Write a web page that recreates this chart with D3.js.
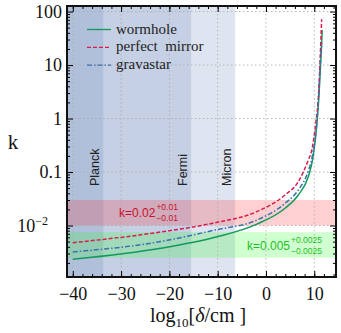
<!DOCTYPE html>
<html>
<head>
<meta charset="utf-8">
<script src="https://cdn.jsdelivr.net/npm/d3@7"></script>
<style>
body{margin:0;background:#fff;}
</style>
</head>
<body>
<div id="plot"></div>
<script>
// chart values
var xTicks = [-40,-30,-20,-10,0,10];
var yTicks = [100,10,1,0.1,0.01];
var yTickLabels = ["100","10","1","0.1","10"];

var bands = [ {name:"Planck", edge:-33.7}, {name:"Fermi", edge:-15.5}, {name:"Micron", edge:-6.4} ];
var redBand = [0.01,0.03];
var greenBand = [0.0025,0.0075];

var wormX = [-40,-21.8,-10.56,-2,3.94,6.69,8.76,9.7,10.55,10.95,11.3,11.65];
var wormK = [0.00233,0.00375,0.00602,0.0105,0.021,0.0372,0.0817,0.18,0.8,2.5,10,45];
var mirrorX = [-40,-21.8,-10.56,-2,3.94,6.69,8.76,9.5,10.3,10.9,11.2,11.53];
var mirrorK = [0.00477,0.00757,0.01127,0.018,0.0372,0.0659,0.1676,0.26,0.8,3,12,72];
var gravX = [-40,-21.8,-10.56,-2,3.94,6.69,8.76,9.6,10.5,10.9,11.25,11.59];
var gravK = [0.0032,0.00502,0.00824,0.0125,0.026,0.0461,0.105,0.2,0.8,2.5,10,26];

var serif = '"Liberation Serif",serif', sans = '"Liberation Sans",sans-serif';

var margin = {t:6,r:5,b:56,l:67};
var W = 341, H = 333;
var width = W-margin.l-margin.r, height = H-margin.t-margin.b;

var svg = d3.select('#plot').append('svg')
    .attr('width',W).attr('height',H);
var plot = svg.append('g')
    .attr('transform','translate('+margin.l+','+margin.t+')');

var x = d3.scaleLinear().domain([-41.2,14.5]).range([0,width]);
var y = d3.scaleLog().domain([0.00109,127]).range([height,0]);

plot.append('defs').append('clipPath').attr('id','clip')
    .append('rect').attr('width',width).attr('height',height);
var inner = plot.append('g').attr('clip-path','url(#clip)');

// blue length-scale bands, all starting from the left edge
bands.forEach(function(b){
    inner.append('rect')
        .attr('x',0).attr('y',0)
        .attr('width',x(b.edge)).attr('height',height)
        .style('fill','rgb(87,118,176)').style('fill-opacity',0.19);
});

// k bands
inner.append('rect')
    .attr('x',0).attr('width',width)
    .attr('y',y(redBand[1])).attr('height',y(redBand[0])-y(redBand[1]))
    .style('fill','rgb(255,40,40)').style('fill-opacity',0.22);
inner.append('rect')
    .attr('x',0).attr('width',width)
    .attr('y',y(greenBand[1])).attr('height',y(greenBand[0])-y(greenBand[1]))
    .style('fill','rgb(40,255,40)').style('fill-opacity',0.22);

// grid
xTicks.forEach(function(t){
    inner.append('line').attr('x1',x(t)).attr('x2',x(t)).attr('y1',0).attr('y2',height)
        .style('stroke','#aaa').style('stroke-width',0.8).style('stroke-dasharray','1.5,2.5');
});
yTicks.forEach(function(t){
    inner.append('line').attr('x1',0).attr('x2',width).attr('y1',y(t)).attr('y2',y(t))
        .style('stroke','#aaa').style('stroke-width',0.8).style('stroke-dasharray','1.5,2.5');
});

// band labels
bands.forEach(function(b){
    inner.append('text')
        .attr('transform','translate('+(x(b.edge)-4)+','+(186-margin.t)+') rotate(-90)')
        .style('font-family',sans)
        .style('font-size','12.5px').style('fill','#222')
        .text(b.name);
});

// curves
var line = d3.line().curve(d3.curveMonotoneX)
    .x(function(d){return x(d[0]);}).y(function(d){return y(d[1]);});
function pairs(xs,ks){ return xs.map(function(v,i){return [v,ks[i]];}); }

var series = [
    {name:'wormhole', data:pairs(wormX,wormK), color:'#119a5c', dash:null},
    {name:'perfect  mirror', data:pairs(mirrorX,mirrorK), color:'#d81c4c', dash:'4,2'},
    {name:'gravastar', data:pairs(gravX,gravK), color:'#3a72ad', dash:'5,2,1.5,2'}
];
series.forEach(function(s){
    inner.append('path').attr('d',line(s.data))
        .style('fill','none').style('stroke',s.color).style('stroke-width',1.5)
        .style('stroke-dasharray',s.dash);
});

// annotations
function annot(tx,ty,main,sup,sub,col){
    var g = plot.append('g');
    var t = g.append('text').attr('x',tx).attr('y',ty)
        .style('font-family',sans).style('fill',col).style('font-size','12px').text(main);
    var w = t.node().getComputedTextLength();
    g.append('text').attr('x',tx+w+1).attr('y',ty-7)
        .style('font-family',sans).style('fill',col).style('font-size','8.5px').text(sup);
    g.append('text').attr('x',tx+w+1).attr('y',ty+4)
        .style('font-family',sans).style('fill',col).style('font-size','8.5px').text(sub);
}
annot(119-margin.l,217-margin.t,'k=0.02','+0.01','\u22120.01','#c8102e');
annot(247-margin.l,250-margin.t,'k=0.005','+0.0025','\u22120.0025','#1fbf1f');

// legend
series.forEach(function(s,i){
    var ly = 29.5+i*17.8-margin.t;
    plot.append('line').attr('x1',87-margin.l).attr('x2',111-margin.l).attr('y1',ly).attr('y2',ly)
        .style('stroke',s.color).style('stroke-width',1.3).style('stroke-dasharray',s.dash);
    plot.append('text').attr('x',116-margin.l).attr('y',ly+4).style('font-size','15px')
        .style('font-family',serif)
        .style('fill','#222').style('white-space','pre').text(s.name);
});

// axes with inward ticks
var xMinor = d3.range(-40,15,2);
plot.append('g').attr('transform','translate(0,'+height+')')
    .call(d3.axisBottom(x).tickValues(xMinor).tickSize(-3).tickFormat(''));
plot.append('g')
    .call(d3.axisTop(x).tickValues(xMinor).tickSize(-3).tickFormat(''));
var xa = plot.append('g').attr('transform','translate(0,'+height+')')
    .call(d3.axisBottom(x).tickValues(xTicks).tickSize(-6).tickPadding(10)
        .tickFormat(function(d){return d<0 ? '\u2212'+(-d) : d;}));
plot.append('g').call(d3.axisTop(x).tickValues(xTicks).tickSize(-6).tickFormat(''));

var yMinor = [];
[0.001,0.01,0.1,1,10,100].forEach(function(dec){
    for(var m=2;m<10;m++){ var v=dec*m; if(v>y.domain()[0] && v<y.domain()[1]) yMinor.push(v); }
});
plot.append('g').call(d3.axisLeft(y).tickValues(yMinor).tickSize(-3).tickFormat(''));
plot.append('g').attr('transform','translate('+width+',0)')
    .call(d3.axisRight(y).tickValues(yMinor).tickSize(-3).tickFormat(''));
var ya = plot.append('g')
    .call(d3.axisLeft(y).tickValues(yTicks).tickSize(-6).tickPadding(5)
        .tickFormat(function(d,i){return yTickLabels[i];}));
plot.append('g').attr('transform','translate('+width+',0)')
    .call(d3.axisRight(y).tickValues(yTicks).tickSize(-6).tickFormat(''));

svg.selectAll('.domain').remove();
svg.selectAll('.tick line').style('stroke','#000').style('stroke-width',1);
svg.selectAll('.tick text').style('font-family',serif)
    .style('font-size','18px').style('fill','#111');

// superscript on 10^-2
ya.selectAll('.tick text').filter(function(d){return d===0.01;})
    .attr('dx','-14px')
    .append('tspan').attr('dy','-7').style('font-size','12px').text('\u22122');

// frame
plot.append('rect').attr('width',width).attr('height',height)
    .style('fill','none').style('stroke','#111').style('stroke-width',2);

// axis titles
svg.append('text').attr('x',13).attr('y',149).attr('text-anchor','middle')
    .style('font-family',serif).style('font-size','21px').style('fill','#111').text('k');
var xt = svg.append('text').attr('x',150).attr('y',322)
    .style('font-family',serif).style('font-size','20px').style('fill','#111');
xt.append('tspan').text('log');
xt.append('tspan').attr('dy',5).style('font-size','13px').text('10');
xt.append('tspan').attr('dy',-5).text('[');
xt.append('tspan').style('font-style','italic').text('\u03b4');
xt.append('tspan').text('/cm ]');
</script>
</body>
</html>
